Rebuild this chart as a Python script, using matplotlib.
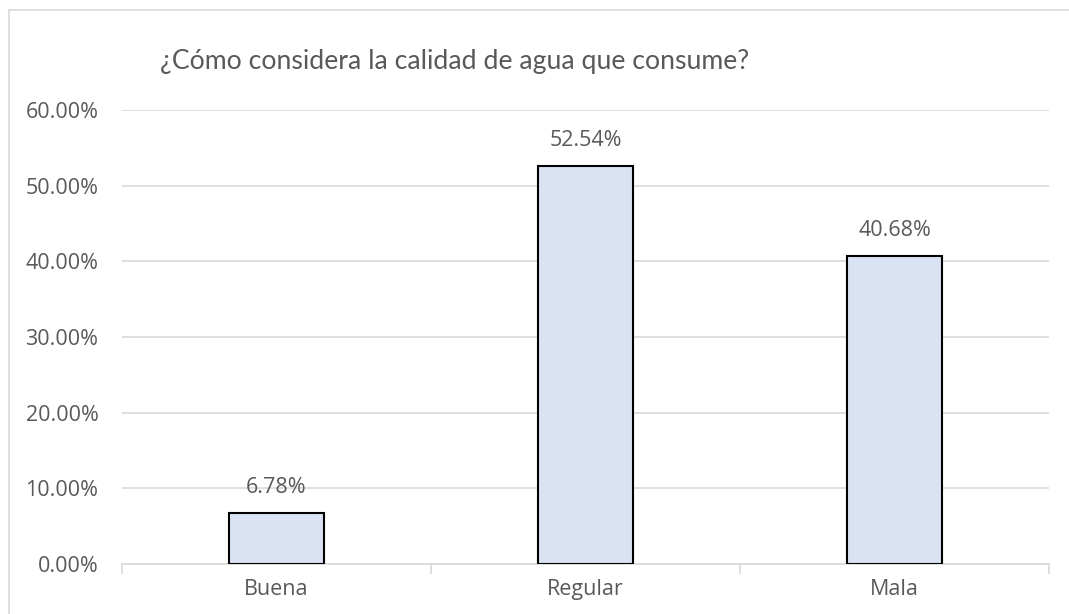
import matplotlib.pyplot as plt
from matplotlib.patches import Rectangle
from matplotlib.ticker import FuncFormatter

categorias = ['Buena', 'Regular', 'Mala']
porcentajes = [6.78, 52.54, 40.68]
titulo = '¿Cómo considera la calidad de agua que consume?'

color_texto = '#595959'
plt.rcParams['font.family'] = ['Open Sans', 'DejaVu Sans']

fig = plt.figure(figsize=(10.69, 6.14), dpi=100)
ax = fig.add_axes([122 / 1069, 1 - 564 / 614, 927 / 1069, 454 / 614])

# borde del area del grafico
fig.patches.append(Rectangle((9 / 1069, -0.1), 1.2, 1 - 10 / 614 + 0.1, transform=fig.transFigure,
                             fill=False, edgecolor='#D9D9D9', linewidth=1.2))

x = range(len(categorias))
ax.bar(x, porcentajes, width=0.31, color='#DAE3F3', edgecolor='black', linewidth=1.5, zorder=3)
for i, v in enumerate(porcentajes):
    ax.text(i, v + 2.0, f'{v:.2f}%', ha='center', va='bottom', fontsize=15.5, color=color_texto)

ax.set_xlim(-0.5, 2.5)
ax.set_ylim(0, 60)
ax.set_yticks(range(0, 61, 10))
ax.yaxis.set_major_formatter(FuncFormatter(lambda v, p: f'{v:.2f}%'))
ax.set_xticks(list(x))
ax.set_xticklabels(categorias)
ax.set_xticks([-0.5, 0.5, 1.5, 2.5], minor=True)
ax.tick_params(axis='x', which='major', length=0, pad=11, labelsize=15.5, labelcolor=color_texto)
ax.tick_params(axis='x', which='minor', length=7, color='#D9D9D9', width=1.2)
ax.tick_params(axis='y', length=0, pad=17, labelsize=15.5, labelcolor=color_texto)
ax.grid(axis='y', color='#D9D9D9', linewidth=1.2, zorder=0)
for s in ['top', 'right', 'left']:
    ax.spines[s].set_visible(False)
ax.spines['bottom'].set_color('#D9D9D9')
ax.spines['bottom'].set_linewidth(1.2)

fig.text(0.425, 1 - 62 / 614, titulo, ha='center', va='center', fontsize=19.2,
         color=color_texto, family=['Lato', 'DejaVu Sans'])

fig.savefig('out.png', dpi=100)
